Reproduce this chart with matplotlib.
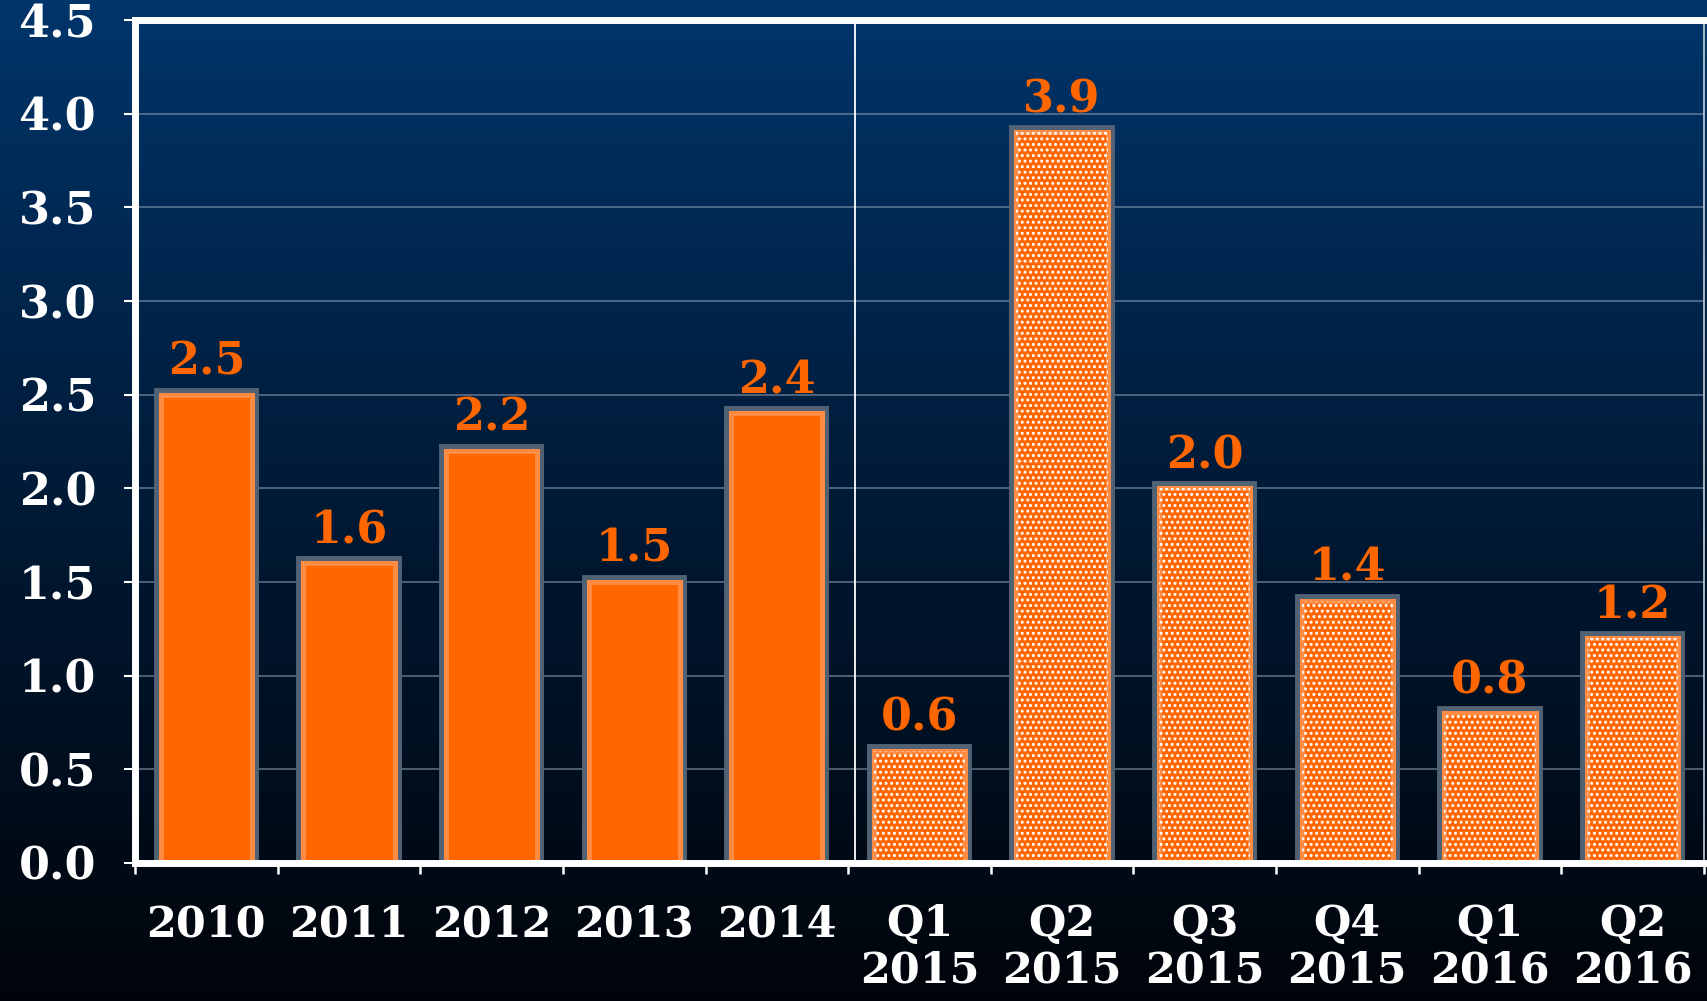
import matplotlib
matplotlib.use("Agg")
import matplotlib.pyplot as plt
import matplotlib.patheffects as pe
from matplotlib.colors import LinearSegmentedColormap
import numpy as np

# data
annual_labels = ["2010", "2011", "2012", "2013", "2014"]
annual_values = [2.5, 1.6, 2.2, 1.5, 2.4]

quarter_labels = ["Q1\n2015", "Q2\n2015", "Q3\n2015", "Q4\n2015", "Q1\n2016", "Q2\n2016"]
quarter_values = [0.6, 3.9, 2.0, 1.4, 0.8, 1.2]

y_ticks = [0.0, 0.5, 1.0, 1.5, 2.0, 2.5, 3.0, 3.5, 4.0, 4.5]

ORANGE = "#ff6600"
LIGHT_ORANGE = "#ff8c42"
GRAY = "#516275"
FONT = "DejaVu Serif"

plt.rcParams["hatch.color"] = "white"
plt.rcParams["hatch.linewidth"] = 1.4

fig = plt.figure(figsize=(17.07, 10.01), dpi=100)

# gradient background, dark blue at top to black at bottom
bg = fig.add_axes([0, 0, 1, 1], zorder=-10)
cmap = LinearSegmentedColormap.from_list("bg", ["#00040a", "#001a36", "#00356b"])
grad = np.linspace(0, 1, 256).reshape(-1, 1)
bg.imshow(grad, aspect="auto", cmap=cmap, origin="lower", extent=[0, 1, 0, 1])
bg.axis("off")

ax = fig.add_axes([0.0791, 0.1379, 0.9191, 0.842])
ax.patch.set_alpha(0)

n_annual = len(annual_values)
x_annual = np.arange(n_annual)
x_quarter = np.arange(len(quarter_values)) + n_annual

border = [pe.Stroke(linewidth=10, foreground=GRAY), pe.Normal()]

bars1 = ax.bar(x_annual, annual_values, width=0.64, color=ORANGE,
               edgecolor=LIGHT_ORANGE, linewidth=3.6, zorder=3)
for b in bars1:
    b.set_path_effects(border)

bars2 = ax.bar(x_quarter, quarter_values, width=0.64, color=ORANGE,
               edgecolor=LIGHT_ORANGE, linewidth=3.6, zorder=3)
for b in bars2:
    b.set_path_effects(border)
# white dotted pattern on the quarterly bars
ax.bar(x_quarter, quarter_values, width=0.64, facecolor="none",
       edgecolor="white", linewidth=0, hatch="...", zorder=4)

# value labels above the bars
for x, v in zip(list(x_annual) + list(x_quarter), annual_values + quarter_values):
    ax.annotate(f"{v:.1f}", (x, v), xytext=(0, 8), textcoords="offset points",
                ha="center", va="bottom", color=ORANGE, fontsize=32,
                fontweight="bold", family=FONT)

# separator between annual and quarterly data
ax.axvline(n_annual - 0.45, color="white", linewidth=1.3, zorder=2)

ax.set_xlim(-0.5, len(annual_values) + len(quarter_values) - 0.5)
ax.set_ylim(0, 4.5)

ax.set_yticks(y_ticks)
ax.set_yticklabels([f"{t:.1f}" for t in y_ticks])
ax.yaxis.grid(True, color="#8a9cb4", alpha=0.6, linewidth=1.3, zorder=0)
ax.set_axisbelow(True)

ax.set_xticks(list(x_annual) + list(x_quarter))
ax.set_xticklabels(annual_labels + quarter_labels, va="top", linespacing=1.12)
ax.set_xticks(np.arange(-0.5, len(annual_values) + len(quarter_values), 1.0), minor=True)

ax.tick_params(axis="x", which="major", length=0, pad=29, colors="white")
ax.tick_params(axis="x", which="minor", length=8, width=1.8, direction="out", colors="white")
ax.tick_params(axis="y", length=8, width=1.5, direction="out", pad=20, colors="white")

for lab in ax.get_xticklabels():
    lab.set_fontsize(31)
for lab in ax.get_yticklabels():
    lab.set_fontsize(32)
for lab in ax.get_xticklabels() + ax.get_yticklabels():
    lab.set_fontweight("bold")
    lab.set_family(FONT)
    lab.set_color("white")

for side in ["left", "bottom", "top"]:
    ax.spines[side].set_color("white")
    ax.spines[side].set_linewidth(5)
    ax.spines[side].set_zorder(5)
ax.spines["right"].set_color("#c8d0da")
ax.spines["right"].set_linewidth(1.2)

plt.savefig("out.png", dpi=100)
plt.close()
